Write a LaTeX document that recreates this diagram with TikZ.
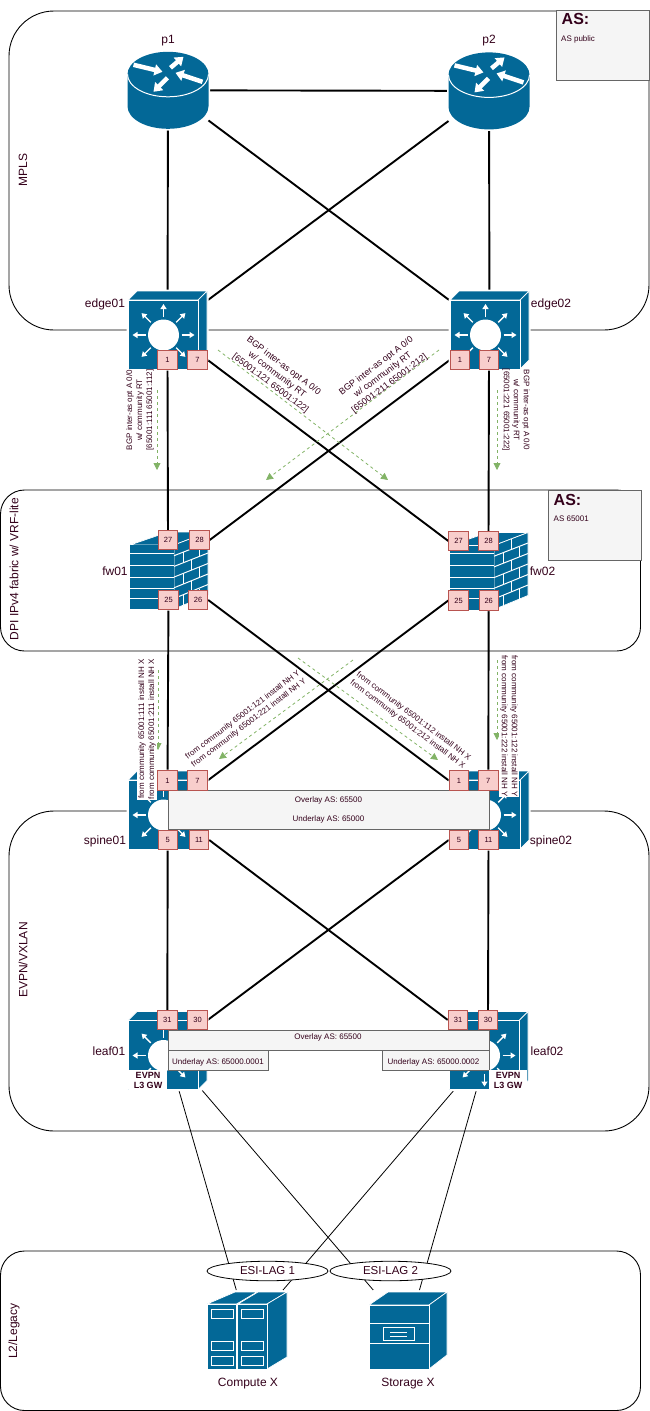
\documentclass[tikz,border=0pt]{standalone}
\usepackage{fontspec}
\setmainfont{Liberation Sans}
\usetikzlibrary{arrows.meta,shapes.geometric}
\definecolor{iconblue}{HTML}{036897}
\definecolor{labelcolor}{HTML}{33001A}
\definecolor{portfill}{HTML}{F8CECC}
\definecolor{portdraw}{HTML}{B85450}
\definecolor{boxfill}{HTML}{F5F5F5}
\definecolor{boxdraw}{HTML}{666666}
\definecolor{routecolor}{HTML}{82B366}
\pgfdeclarelayer{back}
\pgfsetlayers{back,main}
\tikzset{
  iconface/.style={fill=iconblue,draw=white,line width=0.7pt,line join=round},
  iconhalo/.style={fill=white,draw=white,line width=3pt,line join=round},
  iconline/.style={draw=white,line width=1pt},
  iconarrow/.style={draw=white,line width=1.4pt,-{Triangle[length=5pt,width=6pt]}},
  routerarrow/.style={draw=white,line width=4.5pt,-{Triangle[length=8pt,width=11pt]}},
  switchicon/.pic={
    \path[iconhalo] (-39.5,-30) -- (-30.5,-39) -- (39.5,-39) -- (39.5,30) -- (30.5,39) -- (-39.5,39) -- cycle;
    \path[iconface] (-39.5,-30) -- (-30.5,-39) -- (39.5,-39) -- (30.5,-30) -- cycle;
    \path[iconface] (30.5,-30) -- (39.5,-39) -- (39.5,30) -- (30.5,39) -- cycle;
    \path[iconface] (-39.5,-30) rectangle (30.5,39);
    \fill[white] (-4,5) circle[radius=15.5];
    \foreach \a in {0,45,...,315}
      \draw[iconarrow] ({-4+18*cos(\a)},{5+18*sin(\a)}) -- ({-4+31*cos(\a)},{5+31*sin(\a)});
  },
  routericon/.pic={
    \path[iconhalo] (-40.5,-16) -- (-40.5,16) arc[start angle=180,end angle=0,x radius=40.5,y radius=22.5]
      -- (40.5,-16) arc[start angle=0,end angle=-180,x radius=40.5,y radius=22.5] -- cycle;
    \fill[iconblue] (-40.5,-16) -- (-40.5,16) arc[start angle=180,end angle=0,x radius=40.5,y radius=22.5]
      -- (40.5,-16) arc[start angle=0,end angle=-180,x radius=40.5,y radius=22.5] -- cycle;
    \draw[iconline] (-40.5,-16) arc[start angle=180,end angle=0,x radius=40.5,y radius=22.5];
    \draw[routerarrow] (-34.5,-25.5) -- (-5.5,-18.5);
    \draw[routerarrow] (2.5,-22.5) -- (15.5,-33.5);
    \draw[routerarrow] (34.5,-8.5) -- (7.5,-17.5);
    \draw[routerarrow] (-0.5,-12.5) -- (-14.5,1.5);
  },
  firewallicon/.pic={
    \path[iconhalo] (-39,-25.5) -- (-1,-38.5) -- (39,-38.5) -- (39,24.5) -- (5,38.5) -- (-39,38.5) -- cycle;
    \path[iconface] (-39,-25.5) -- (-1,-38.5) -- (39,-38.5) -- (5,-25.5) -- cycle;
    \path[iconface] (5,-25.5) -- (39,-38.5) -- (39,24.5) -- (5,38.5) -- cycle;
    \fill[iconblue] (-39,-25.5) rectangle (5,38.5);
    \foreach \y in {-17.5,-5.5,6.5,17.5,27.5}
      \draw[iconline] (-39,\y) -- (5,\y);
    \foreach \k in {1,...,5}
      \draw[iconline] (5,{-25.5+10.7*\k}) -- (39,{-38.5+10.5*\k});
    \foreach \k in {0,2,4}
      \draw[iconline] (22,{-32+10.6*\k}) -- (22,{-32+10.6*(\k+1)});
    \foreach \k in {1,3,5} {
      \draw[iconline] (14,{-29+10.6*\k}) -- (14,{-29+10.6*(\k+1)});
      \draw[iconline] (30,{-35+10.6*\k}) -- (30,{-35+10.6*(\k+1)});
    }
  },
  computeicon/.pic={
    \path[iconface] (-40,-26) -- (-12,-38) -- (10,-38) -- (-10.5,-26) -- cycle;
    \path[iconface] (-9,-26) -- (11,-38) -- (40,-38) -- (20,-26) -- cycle;
    \path[iconface] (20,-26) -- (40,-38) -- (40,27) -- (20,39) -- cycle;
    \path[iconface] (-40,-26) rectangle (-10.5,39);
    \path[iconface] (-10,-26) rectangle (20,39);
    \foreach \x in {-36,-6}
      \foreach \y in {-21,11,26}
        \draw[iconline] (\x,\y) rectangle ({\x+22},{\y+9});
  },
  storageicon/.pic={
    \path[iconface] (-39,-25) -- (-20,-38) -- (39,-38) -- (21,-25) -- cycle;
    \path[iconface] (21,-25) -- (39,-38) -- (39,25) -- (21,39) -- cycle;
    \path[iconface] (-39,-25) rectangle (21,39);
    \draw[iconline] (-39,-7) -- (21,-7);
    \draw[iconline] (-39,13) -- (21,13);
    \draw[iconline] (-25,-3) rectangle (6,10);
    \draw[iconline] (-18,2) -- (-1,2);
    \draw[iconline] (-18,6) -- (-1,6);
  }
}
\begin{document}
\begin{tikzpicture}[x=1pt,y=-1pt,
    zone/.style={draw=black,line width=0.9pt},
    iconbox/.style={rectangle,minimum width=79pt,minimum height=78pt,inner sep=0pt,outer sep=1pt},
    port/.style={rectangle,fill=portfill,draw=portdraw,line width=0.9pt,minimum size=19.5pt,inner sep=0pt,
      text=labelcolor,font=\fontsize{7.5}{9}\selectfont},
    link/.style={draw=black,line width=1.9pt},
    thinlink/.style={draw=black,line width=0.8pt},
    route/.style={draw=routecolor,line width=0.8pt,dash pattern=on 3pt off 3pt,-{Triangle[length=7pt,width=7pt]}},
    graybox/.style={rectangle,fill=boxfill,draw=boxdraw,line width=0.9pt,inner sep=0pt},
    devlabel/.style={text=labelcolor,font=\fontsize{12}{14}\selectfont,inner sep=0pt},
    zonelabel/.style={text=labelcolor,font=\fontsize{12}{14}\selectfont,inner sep=0pt,rotate=90},
    small/.style={text=labelcolor,font=\fontsize{8}{10}\selectfont,inner sep=0pt,align=center},
    bgplabel/.style={text=labelcolor,font=\fontsize{9}{11}\selectfont,inner sep=0pt,align=center},
    smallbg/.style={small,fill=white,inner sep=1pt},
    gwlabel/.style={text=labelcolor,fill=white,font=\fontsize{9}{10}\selectfont\bfseries,inner sep=0pt,
      align=center,minimum width=38pt,minimum height=20pt},
    lag/.style={ellipse,draw=black,fill=white,line width=0.8pt,minimum width=121pt,minimum height=19.5pt,inner sep=0pt,
      text=labelcolor,font=\fontsize{11.5}{13}\selectfont}]
  \useasboundingbox (0,0) rectangle (649,1411);

  % zones
  \begin{pgfonlayer}{back}
    \draw[zone,rounded corners=45pt] (9,11) rectangle (649,330);
    \draw[zone,rounded corners=24pt] (0.5,490) rectangle (640.5,651);
    \draw[zone,rounded corners=45pt] (9,811) rectangle (649,1131);
    \draw[zone,rounded corners=24pt] (0.5,1251) rectangle (640.5,1410.5);
  \end{pgfonlayer}

  % devices
  \node[iconbox] (p1) at (168,90.3) {};
  \node[iconbox] (p2) at (489,90.9) {};
  \node[iconbox] (e1) at (167.5,330) {};
  \node[iconbox] (e2) at (489.5,330) {};
  \node[iconbox] (f1) at (169,570.5) {};
  \node[iconbox] (f2) at (489,571) {};
  \node[iconbox] (s1) at (167.5,810) {};
  \node[iconbox] (s2) at (489.5,810) {};
  \node[iconbox] (l1) at (167.5,1050.5) {};
  \node[iconbox] (l2) at (488.5,1050.5) {};
  \node[iconbox] (compute) at (247,1330) {};
  \node[iconbox] (storage) at (408,1330) {};

  \pic at (p1) {routericon};
  \pic at (p2) {routericon};
  \pic at (e1) {switchicon};
  \pic at (e2) {switchicon};
  \pic at (f1) {firewallicon};
  \pic at (f2) {firewallicon};
  \pic at (s1) {switchicon};
  \pic at (s2) {switchicon};
  \pic at (l1) {switchicon};
  \pic at (l2) {switchicon};
  \pic at (compute) {computeicon};
  \pic at (storage) {storageicon};

  % AS boxes
  \node[graybox,minimum width=93pt,minimum height=70pt] (aspublic) at (602.5,45) {};
  \node[graybox,minimum width=93pt,minimum height=70pt] (asfabric) at (594.5,525) {};
  \node[text=labelcolor,font=\fontsize{16}{18}\selectfont\bfseries,inner sep=0pt,anchor=west] (aspublichead) at (561.5,19) {AS:};
  \node[small,anchor=west] (aspublictext) at (561,39) {AS public};
  \node[text=labelcolor,font=\fontsize{16}{18}\selectfont\bfseries,inner sep=0pt,anchor=west] (asfabrichead) at (553.5,500) {AS:};
  \node[small,anchor=west] (asfabrictext) at (553.5,519) {AS 65001};

  % overlay boxes
  \node[graybox,minimum width=321pt,minimum height=39pt,small] (spinebox) at (328.5,809.5) {Overlay AS: 65500\\[9pt]Underlay AS: 65000};
  \node[graybox,minimum width=321pt,minimum height=20pt] (leafbox) at (328.5,1040) {};
  \node[small] (leaftext) at (328,1037.5) {Overlay AS: 65500};
  \node[graybox,minimum width=100pt,minimum height=20pt] (l1box) at (218,1060) {};
  \node[small] (l1text) at (218,1062) {Underlay AS: 65000.0001};
  \node[graybox,minimum width=107pt,minimum height=20pt] (l2box) at (435.5,1060) {};
  \node[small] (l2text) at (433.5,1062) {Underlay AS: 65000.0002};

  % ports
  \node[port] (e1p1) at (167.5,360) {1};
  \node[port] (e1p7) at (197.5,360) {7};
  \node[port] (e2p1) at (460,360) {1};
  \node[port] (e2p7) at (489,360) {7};
  \node[port] (f1p27) at (168,540) {27};
  \node[port] (f1p28) at (199.5,540) {28};
  \node[port] (f1p25) at (168.5,600) {25};
  \node[port] (f1p26) at (198,600) {26};
  \node[port] (f2p27) at (458.5,541) {27};
  \node[port] (f2p28) at (488.5,541) {28};
  \node[port] (f2p25) at (458.5,600.5) {25};
  \node[port] (f2p26) at (488.7,600.5) {26};
  \node[port] (s1p1) at (167.5,780.5) {1};
  \node[port] (s1p7) at (197.5,780.5) {7};
  \node[port] (s1p5) at (167.7,840) {5};
  \node[port] (s1p11) at (199,840) {11};
  \node[port] (s2p1) at (459,780.5) {1};
  \node[port] (s2p7) at (488.3,780.5) {7};
  \node[port] (s2p5) at (459,840) {5};
  \node[port] (s2p11) at (488.5,840) {11};
  \node[port] (l1p31) at (167.3,1020) {31};
  \node[port] (l1p30) at (197.5,1020) {30};
  \node[port] (l2p31) at (458,1020) {31};
  \node[port] (l2p30) at (488,1020) {30};

  % ESI-LAG
  \node[lag] (lag1) at (267.5,1271) {ESI-LAG 1};
  \node[lag] (lag2) at (390.5,1271) {ESI-LAG 2};

  % connectors
  \begin{pgfonlayer}{back}
    \draw[link] (p1) to (p2);
    \draw[link] (p1) to (e1);
    \draw[link] (p2) to (e2);
    \draw[link] (p1) to (e2);
    \draw[link] (p2) to (e1);
    \draw[link] (e1p1) to (f1p27);
    \draw[link] (e2p7) to (f2p28);
    \draw[link] (e1p7.east) to (f2p27.west);
    \draw[link] (e2p1.west) to (f1p28.east);
    \draw[link] (f1p25) to (s1p1);
    \draw[link] (f2p26) to (s2p7);
    \draw[link] (f1p26.east) to (s2p1.west);
    \draw[link] (f2p25.west) to (s1p7.east);
    \draw[link] (s1p5) to (l1p31);
    \draw[link] (s2p11) to (l2p30);
    \draw[link] (s1p11.east) to (l2p31.west);
    \draw[link] (s2p5.west) to (l1p30.east);
    \draw[thinlink] (l1.-74) to (compute.105.7);
    \draw[thinlink] (l1.-49.6) to (storage.131);
    \draw[thinlink] (l2.-131.3) to (compute.48.1);
    \draw[thinlink] (l2.-107.1) to (storage.74.2);
  \end{pgfonlayer}

  % routes
  \coordinate (r1a) at (157,390);
  \coordinate (r1b) at (157,470);
  \coordinate (r2a) at (218,350);
  \coordinate (r2b) at (388,480);
  \coordinate (r3a) at (439,350);
  \coordinate (r3b) at (266,480);
  \coordinate (r4a) at (497,390);
  \coordinate (r4b) at (497,470);
  \coordinate (r5a) at (158,670);
  \coordinate (r5b) at (158,750);
  \coordinate (r6a) at (353,660);
  \coordinate (r6b) at (219,759);
  \coordinate (r7a) at (298,658);
  \coordinate (r7b) at (438,760);
  \coordinate (r8a) at (497,660);
  \coordinate (r8b) at (497,740);
  \draw[route] (r1a) -- (r1b);
  \draw[route] (r2a) -- (r2b);
  \draw[route] (r3a) -- (r3b);
  \draw[route] (r4a) -- (r4b);
  \draw[route] (r5a) -- (r5b);
  \draw[route] (r6a) -- (r6b);
  \draw[route] (r7a) -- (r7b);
  \draw[route] (r8a) -- (r8b);

  % labels
  \node[devlabel] (p1text) at (168,41) {p1};
  \node[devlabel] (p2text) at (489,41) {p2};
  \node[devlabel] (e1text) at (105,304) {edge01};
  \node[devlabel] (e2text) at (551,304) {edge02};
  \node[devlabel] (f1text) at (115,571) {fw01};
  \node[devlabel] (f2text) at (542.5,571) {fw02};
  \node[devlabel] (s1text) at (105,841) {spine01};
  \node[devlabel] (s2text) at (551,841) {spine02};
  \node[devlabel] (l1label) at (109,1051) {leaf01};
  \node[devlabel] (l2label) at (547,1051) {leaf02};
  \node[devlabel] (computetext) at (248,1384) {Compute X};
  \node[devlabel] (storagetext) at (408,1384) {Storage X};
  \node[gwlabel] (l1gw) at (148,1080) {EVPN\\L3 GW};
  \node[gwlabel] (l2gw) at (508,1080) {EVPN\\L3 GW};

  \node[zonelabel] (mpls) at (23,170) {MPLS};
  \node[zonelabel] (dpi) at (14,569) {DPI IPv4 fabric w/ VRF-lite};
  \node[zonelabel] (evpn) at (23,960) {EVPN/VXLAN};
  \node[zonelabel] (legacy) at (14,1331) {L2/Legacy};

  \node[small,rotate=90] (bgp1) at (140,410) {BGP inter-as opt A 0/0\\w/ community RT\\{[65001:111 65001:112]}};
  \node[bgplabel,rotate=-37] (bgp2) at (277,375) {BGP inter-as opt A 0/0\\w/ community RT\\{[65001:121 65001:122]}};
  \node[bgplabel,rotate=37] (bgp3) at (383,375) {BGP inter-as opt A 0/0\\w/ community RT\\{[65001:211 65001:212]}};
  \node[small,rotate=-90] (bgp4) at (516,410) {BGP inter-as opt A 0/0\\w/ community RT\\{[65001:221 65001:222]}};

  \node[smallbg,rotate=90] (nh1) at (147,729) {from community 65001:111 install NH X\\from community 65001:211 install NH X};
  \node[small,rotate=37] (nh2) at (246,719) {from community 65001:121 install NH Y\\from community 65001:221 install NH Y};
  \node[small,rotate=-37] (nh3) at (410.5,720.5) {from community 65001:112 install NH X\\from community 65001:212 install NH X};
  \node[smallbg,rotate=-90] (nh4) at (509,726) {from community 65001:122 install NH Y\\from community 65001:222 install NH Y};
\end{tikzpicture}
\end{document}
